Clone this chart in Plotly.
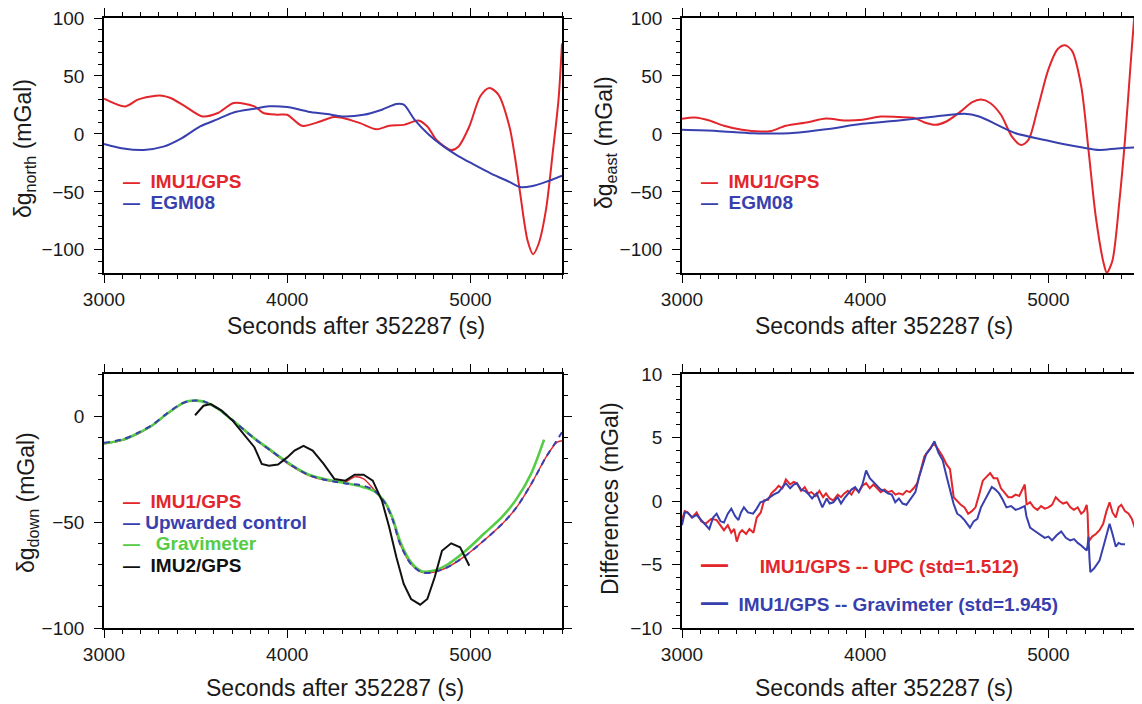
import plotly.graph_objects as go

# page size and the browser's default body margin (the figure is drawn 8px in from the corner)
PAGE_W, PAGE_H = 1142, 704
OFF = 8
W, H = PAGE_W - OFF, PAGE_H - OFF

# ---------------- data ----------------
# Top-left: delta g north
north_imu_t = [3000, 3117, 3185, 3284, 3318, 3364, 3443, 3536, 3622, 3708, 3821, 3870, 3945, 4000, 4081, 4179,
               4253, 4300, 4398, 4487, 4557, 4636, 4716, 4765, 4815, 4895, 4934, 4994, 5054, 5103, 5153,
               5213, 5243, 5272, 5312, 5342, 5372, 5412, 5451, 5481, 5500]
north_imu = [30.4, 23.7, 29.6, 33.0, 33.0, 31.0, 23.8, 15.1, 18.0, 26.6, 23.8, 18.0, 16.6, 16.5, 7.0, 10.7,
             14.6, 14.0, 9.3, 4.0, 7.0, 7.8, 11.6, 6.4, -5.2, -13.9, -11.0, 6.4, 32.5, 39.7, 33.9,
             6.4, -19.7, -51.6, -92.0, -103.8, -95.0, -66.0, -14.0, 29.6, 78.0]
north_egm_t = [3000, 3105, 3217, 3324, 3423, 3525, 3622, 3708, 3821, 3900, 4000, 4115, 4219, 4300, 4417,
               4517, 4596, 4636, 4696, 4775, 4855, 4934, 5014, 5113, 5213, 5272, 5332, 5412, 5500]
north_egm = [-8.6, -12.5, -13.8, -11.0, -3.8, 6.5, 12.8, 18.5, 21.7, 23.8, 23.2, 19.2, 17.1, 15.1, 16.5,
             20.9, 25.8, 25.2, 12.2, -0.9, -11.0, -19.1, -26.0, -34.2, -41.4, -45.8, -45.2, -41.4, -36.0]

# Top-right: delta g east
east_imu_t = [3000, 3070, 3149, 3229, 3328, 3428, 3488, 3567, 3687, 3786, 3886, 3985, 4085, 4184, 4264,
              4324, 4383, 4443, 4522, 4582, 4632, 4682, 4741, 4801, 4851, 4891, 4940, 5000, 5050, 5090,
              5129, 5179, 5219, 5259, 5303, 5319, 5349, 5388, 5418, 5448, 5468, 5480]
east_imu = [13.0, 14.2, 11.6, 7.0, 3.5, 2.0, 2.6, 7.0, 10.1, 13.3, 11.6, 12.2, 15.0, 14.5, 13.9,
            9.9, 7.8, 10.7, 19.4, 27.2, 29.6, 26.7, 16.5, -2.3, -9.6, -5.2, 20.9, 55.7, 73.0, 76.5,
            71.6, 41.2, -13.9, -71.9, -112.5, -119.7, -109.6, -57.4, -5.2, 58.6, 100.0, 125.0]
east_egm_t = [3000, 3189, 3388, 3587, 3786, 3985, 4184, 4383, 4542, 4622, 4721, 4821, 4980, 5080, 5179,
              5279, 5378, 5500]
east_egm = [3.5, 2.6, 0.6, 0.6, 4.0, 8.7, 11.6, 15.0, 17.4, 15.0, 7.8, 0.6, -5.2, -8.7, -11.6,
            -13.9, -12.5, -11.6]

# Bottom-left: delta g down
down_imu1_t = [3000, 3105, 3185, 3264, 3344, 3423, 3463, 3503, 3553, 3622, 3702, 3821, 3920, 4020, 4119,
               4219, 4318, 4368, 4417, 4477, 4537, 4577, 4616, 4676, 4736, 4795, 4875, 4974, 5074, 5173,
               5252, 5332, 5412, 5471, 5500]
down_imu1 = [-13.0, -11.2, -8.3, -4.4, 1.1, 5.8, 7.1, 7.4, 6.6, 3.5, -2.0, -10.7, -17.0, -23.3, -28.0,
             -30.4, -31.0, -28.6, -29.5, -35.0, -41.4, -49.3, -60.3, -69.8, -73.7, -73.7, -71.3, -65.8,
             -58.7, -50.9, -43.0, -32.0, -19.4, -12.3, -11.5]
down_upc_t = [3000, 3105, 3185, 3264, 3344, 3423, 3463, 3503, 3553, 3622, 3702, 3821, 3920, 4020, 4119,
              4219, 4318, 4417, 4477, 4537, 4577, 4616, 4676, 4736, 4795, 4875, 4974, 5074, 5173, 5252,
              5332, 5412, 5471, 5500]
down_upc = [-12.5, -10.8, -7.8, -4.0, 1.4, 6.0, 7.2, 7.5, 6.8, 3.7, -1.8, -10.5, -16.8, -23.0, -27.8,
            -30.2, -31.7, -32.8, -35.1, -41.4, -49.3, -60.3, -69.8, -73.7, -73.7, -71.3, -65.8, -58.7,
            -50.9, -43.0, -32.0, -19.4, -11.5, -7.5]
down_grav_t = [3000, 3105, 3185, 3264, 3344, 3423, 3463, 3503, 3553, 3622, 3702, 3821, 3920, 4020, 4119,
               4219, 4318, 4417, 4477, 4537, 4577, 4616, 4676, 4736, 4795, 4875, 4974, 5074, 5173, 5252,
               5332, 5402]
down_grav = [-12.8, -11.0, -8.0, -4.2, 1.2, 5.9, 7.2, 7.4, 6.7, 3.6, -1.9, -10.4, -16.6, -22.8, -27.6,
             -30.0, -31.5, -33.5, -35.5, -41.0, -48.5, -59.0, -69.0, -73.3, -73.0, -70.0, -63.5, -55.5,
             -47.5, -39.0, -27.0, -11.0]
down_imu2_t = [3497, 3520, 3543, 3583, 3642, 3702, 3761, 3821, 3861, 3900, 3950, 4000, 4040, 4089, 4139,
               4199, 4258, 4318, 4368, 4417, 4467, 4517, 4557, 4596, 4636, 4676, 4726, 4765, 4805, 4845,
               4895, 4944, 4994]
down_imu2 = [0.5, 3.0, 5.0, 5.8, 2.7, -2.0, -8.3, -14.6, -22.5, -23.3, -22.8, -19.4, -16.2, -13.9, -16.2,
             -22.5, -29.6, -30.4, -27.6, -27.6, -30.4, -39.8, -52.4, -66.6, -79.2, -86.3, -89.0, -86.3,
             -76.0, -63.5, -60.0, -61.9, -70.6]

# Bottom-right: differences
diff_upc_t = [3000, 3015, 3030, 3055, 3080, 3105, 3129, 3160, 3189, 3210, 3229, 3250, 3269, 3285, 3299,
              3315, 3328, 3350, 3368, 3390, 3408, 3430, 3448, 3470, 3488, 3510, 3527, 3548, 3567, 3590,
              3610, 3627, 3650, 3670, 3690, 3706, 3730, 3750, 3770, 3786, 3806, 3826, 3850, 3868, 3886,
              3905, 3925, 3945, 3965, 3985, 4005, 4025, 4045, 4065, 4085, 4105, 4124, 4145, 4165, 4184,
              4205, 4225, 4244, 4264, 4284, 4303, 4323, 4348, 4373, 4388, 4403, 4423, 4443, 4463, 4483,
              4502, 4522, 4542, 4562, 4582, 4602, 4622, 4642, 4662, 4682, 4701, 4721, 4741, 4761, 4781,
              4801, 4821, 4841, 4861, 4871, 4881, 4900, 4920, 4940, 4960, 4980, 5000, 5020, 5040, 5060,
              5080, 5100, 5120, 5139, 5160, 5179, 5195, 5209, 5214, 5219, 5239, 5259, 5279, 5299, 5317,
              5334, 5350, 5368, 5383, 5398, 5418, 5438, 5455, 5473, 5488, 5500]
diff_upc = [-1.5, -0.8, -0.9, -1.3, -0.9, -1.6, -1.8, -1.4, -1.5, -1.9, -2.3, -1.9, -2.5, -2.2, -3.2,
            -2.5, -2.3, -2.6, -2.2, -2.5, -1.3, -0.9, 0.05, 0.1, 0.6, 0.9, 1.2, 1.0, 1.7, 1.3,
            1.5, 1.4, 0.8, 1.1, 0.6, 0.7, 0.4, 0.8, 0.3, 0.6, 0.2, 0.05, 0.5, 0.3, 0.6,
            0.8, 0.5, 1.0, 0.7, 1.2, 1.4, 1.0, 1.3, 1.0, 0.7, 0.9, 0.7, 0.8, 0.5, 0.6,
            0.5, 0.8, 0.7, 1.0, 1.4, 2.4, 3.5, 4.0, 4.5, 4.3, 4.0, 3.5, 2.9, 2.5, 0.3,
            0.0, -0.3, -0.5, -1.0, -0.8, -0.5, 0.5, 1.6, 1.9, 2.2, 1.8, 1.8, 1.0, 0.6, 0.3,
            0.3, 0.5, 0.4, 1.1, 1.3, -0.3, -0.1, -0.5, -0.7, -0.4, -0.6, -0.5, -0.3, 0.3, 0.0,
            -0.2, -0.1, -0.5, -0.7, -0.5, -1.0, -0.8, -0.3, -1.0, -3.2, -2.8, -2.6, -2.3, -1.8, -0.8,
            -0.1, -0.9, -1.3, -0.5, -0.3, -0.8, -1.0, -1.4, -2.1, -2.8, -4.0]
diff_grav_t = [3000, 3015, 3030, 3055, 3080, 3110, 3149, 3170, 3189, 3210, 3229, 3250, 3269, 3290, 3308,
               3322, 3338, 3360, 3388, 3408, 3428, 3450, 3478, 3500, 3527, 3547, 3567, 3590, 3610, 3627,
               3650, 3670, 3687, 3710, 3735, 3766, 3790, 3806, 3826, 3850, 3868, 3886, 3905, 3925, 3945,
               3965, 3985, 4005, 4025, 4045, 4065, 4085, 4105, 4124, 4145, 4164, 4184, 4204, 4225, 4254,
               4274, 4294, 4314, 4333, 4355, 4378, 4400, 4423, 4443, 4463, 4482, 4502, 4522, 4542, 4557,
               4572, 4592, 4612, 4632, 4652, 4672, 4691, 4711, 4731, 4751, 4771, 4796, 4821, 4841, 4861,
               4871, 4880, 4900, 4920, 4940, 4960, 4980, 5000, 5020, 5045, 5070, 5095, 5119, 5140, 5160,
               5179, 5195, 5209, 5214, 5219, 5224, 5229, 5250, 5279, 5300, 5320, 5334, 5350, 5368, 5383,
               5398, 5418]
diff_grav = [-1.9, -0.9, -0.9, -1.3, -1.1, -1.6, -2.2, -1.3, -1.0, -1.6, -1.7, -1.0, -0.6, -1.2, -1.5,
             -0.9, -0.5, -0.9, -1.0, -0.6, -0.1, 0.0, 0.3, 0.5, 0.7, 1.1, 1.4, 1.0, 1.3, 1.4,
             0.9, 0.8, 0.6, 0.2, 0.6, -0.5, 0.2, -0.2, -0.1, 0.3, -0.2, 0.2, 0.5, 0.9, 1.1,
             0.7, 1.3, 2.4, 1.8, 1.5, 1.2, 0.9, 0.8, 0.6, 0.5, -0.1, 0.2, -0.2, -0.3, 0.3,
             0.7, 1.9, 2.8, 3.7, 4.1, 4.7, 3.8, 3.2, 2.0, 0.8, -0.2, -1.0, -1.2, -1.5, -1.8,
             -2.1, -1.6, -1.4, -0.5, 0.05, 0.6, 1.1, 0.9, 0.6, 0.1, -0.5, -0.4, -0.7, -0.6, -0.5,
             -0.4, -1.2, -2.1, -2.3, -2.5, -2.7, -2.9, -2.8, -3.1, -2.7, -2.4, -2.9, -3.1, -3.0, -3.3,
             -3.5, -3.7, -3.9, -3.5, -2.8, -4.5, -5.6, -5.3, -4.7, -3.6, -2.5, -1.8, -2.6, -3.6, -3.3,
             -3.4, -3.4]

x_title = "Seconds after 352287 (s)"
y_titles = ["δg<sub>north</sub> (mGal)", "δg<sub>east</sub> (mGal)", "δg<sub>down</sub> (mGal)",
            "Differences (mGal)"]
legend_tl = ["IMU1/GPS", "EGM08"]
legend_bl = ["IMU1/GPS", "Upwarded control", "Gravimeter", "IMU2/GPS"]
legend_br = ["IMU1/GPS -- UPC (std=1.512)", "IMU1/GPS -- Gravimeter (std=1.945)"]

# ---------------- styling ----------------
RED = "#e2262b"
BLUE = "#383fae"
GREEN = "#55cc44"
BLACK = "#111111"
FONT = "Liberation Sans, Arial, Helvetica, sans-serif"
NB = "\u00a0"


def px(x):
    # page pixel -> paper fraction
    return (x - OFF) / W


def py(y):
    return 1 - (y - OFF) / H


fig = go.Figure()

# panel rectangles in page pixels
left_x = (104, 562)
right_x = (682, 1140)
top_y = (18, 273)
bot_y = (374, 628)

panels = [
    ("x", "y", left_x, top_y, [-120, 100], 50, 10),
    ("x2", "y2", right_x, top_y, [-120, 100], 50, 10),
    ("x3", "y3", left_x, bot_y, [-100, 20], 50, 10),
    ("x4", "y4", right_x, bot_y, [-10, 10], 5, 1),
]

axis_common = dict(
    showline=True, linecolor="black", linewidth=1.6, mirror="allticks",
    ticks="outside", ticklen=8, tickwidth=1.3, tickcolor="black",
    showgrid=False, zeroline=False, automargin=False, ticklabeloverflow="allow",
    tickfont=dict(family=FONT, size=19, color="#1a1a1a"),
)

layout_axes = {}
for i, (xa, ya, xd, yd, yr, ydt, yminor) in enumerate(panels):
    xkey = "xaxis" if i == 0 else f"xaxis{i + 1}"
    ykey = "yaxis" if i == 0 else f"yaxis{i + 1}"
    layout_axes[xkey] = dict(
        axis_common, domain=[px(xd[0]), min(1.0, px(xd[1]))], range=[3000, 5500],
        tick0=3000, dtick=1000, anchor=ya,
        minor=dict(ticks="outside", ticklen=4, tickwidth=1, tickcolor="black", dtick=100, tick0=3000,
                   showgrid=False),
    )
    layout_axes[ykey] = dict(
        axis_common, domain=[py(yd[1]), py(yd[0])], range=yr,
        tick0=0, dtick=ydt, anchor=xa, ticklabelstandoff=6,
        minor=dict(ticks="outside", ticklen=4, tickwidth=1, tickcolor="black", dtick=yminor, tick0=0,
                   showgrid=False),
    )


def add(xs, ys, color, width, xa, ya, shape="spline", dash="solid", name=""):
    fig.add_trace(go.Scatter(
        x=xs, y=ys, mode="lines", name=name, showlegend=False,
        line=dict(color=color, width=width, shape=shape, dash=dash, smoothing=0.8 if shape == "spline" else None),
        xaxis=xa, yaxis=ya, cliponaxis=True,
    ))


add(north_imu_t, north_imu, RED, 2, "x", "y", name=legend_tl[0])
add(north_egm_t, north_egm, BLUE, 2, "x", "y", name=legend_tl[1])
add(east_imu_t, east_imu, RED, 2, "x2", "y2", name=legend_tl[0])
add(east_egm_t, east_egm, BLUE, 2, "x2", "y2", name=legend_tl[1])
add(down_imu1_t, down_imu1, RED, 1.4, "x3", "y3", name=legend_bl[0])
add(down_grav_t, down_grav, GREEN, 2.6, "x3", "y3", name=legend_bl[2])
add(down_upc_t, down_upc, BLUE, 2, "x3", "y3", dash="6px,5px", name=legend_bl[1])
add(down_imu2_t, down_imu2, BLACK, 2, "x3", "y3", shape="linear", name=legend_bl[3])
add(diff_upc_t, diff_upc, RED, 2, "x4", "y4", shape="linear", name=legend_br[0])
add(diff_grav_t, diff_grav, BLUE, 2, "x4", "y4", shape="linear", name=legend_br[1])

annotations = []

# axis titles
for cx, cy in [(356, 326), (884, 326), (335, 688), (884, 688)]:
    annotations.append(dict(x=px(cx), y=py(cy), xref="paper", yref="paper", text=x_title, showarrow=False,
                            xanchor="center", yanchor="middle",
                            font=dict(family=FONT, size=23, color="#1a1a1a")))
for (cx, cy), t in zip([(24, 149), (605, 143), (28, 503), (610, 499)], y_titles):
    annotations.append(dict(x=px(cx), y=py(cy), xref="paper", yref="paper", text=t, showarrow=False,
                            textangle=-90, xanchor="center", yanchor="middle",
                            font=dict(family=FONT, size=23, color="#1a1a1a")))


def legend_entry(x0, yc, label, color, gap, dash_size=17):
    txt = (f"<span style='font-size:{dash_size}px'>—</span>" + NB * gap + label)
    annotations.append(dict(x=px(x0), y=py(yc), xref="paper", yref="paper",
                            text=f"<b>{txt}</b>", showarrow=False, xanchor="left", yanchor="middle",
                            font=dict(family=FONT, size=19, color=color)))


# top-left legend
legend_entry(121, 181, legend_tl[0], RED, 2)
legend_entry(121, 203, legend_tl[1], BLUE, 2)
# top-right legend
legend_entry(699, 181, legend_tl[0], RED, 2)
legend_entry(699, 203, legend_tl[1], BLUE, 2)
# bottom-left legend
legend_entry(121, 501, legend_bl[0], RED, 2)
legend_entry(121, 522, legend_bl[1], BLUE, 1)
legend_entry(121, 543, legend_bl[2], GREEN, 3)
legend_entry(121, 565, legend_bl[3], BLACK, 2)
# bottom-right legend
legend_entry(699, 564, legend_br[0], RED, 6, dash_size=27)
legend_entry(699, 602, legend_br[1], BLUE, 2, dash_size=27)

fig.update_layout(
    width=W, height=H,
    margin=dict(l=0, r=0, t=0, b=0, autoexpand=False),
    paper_bgcolor="white", plot_bgcolor="white",
    showlegend=False,
    annotations=annotations,
    font=dict(family=FONT, color="#1a1a1a"),
    **layout_axes,
)

fig.write_html("out.html")
